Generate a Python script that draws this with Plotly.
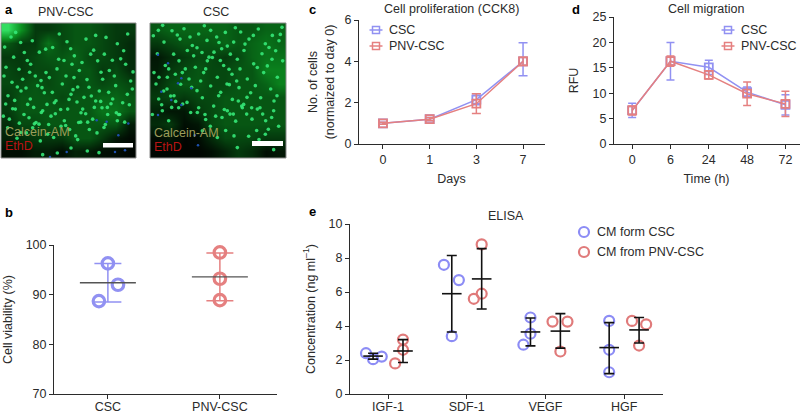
import plotly.graph_objects as go

W, H = 800, 415
FONT = "Liberation Sans"
INK = "#2b2b2b"
BLUE = "#9191f2"
RED = "#e58080"
BLUE_D = "#8c8cf5"
RED_D = "#e07a7a"

# ---------- data ----------
photo_pnv = [
 [.9,.5,.2,.2,.25,.3,.3,.25,.2,.2],
 [.3,.2,.2,.4,.25,.3,.3,.25,.2,.15],
 [.2,.2,.25,.3,.3,.35,.25,.25,.2,.15],
 [.25,.2,.25,.25,.3,.3,.3,.2,.25,.15],
 [.25,.25,.3,.25,.3,.25,.3,.25,.3,.25],
 [.2,.3,.3,.3,.25,.3,.3,.35,.35,.3],
 [.2,.3,.3,.3,.3,.3,.3,.4,.4,.3],
 [.15,.25,.25,.3,.3,.3,.3,.3,.3,.1],
 [.12,.15,.2,.2,.2,.3,.3,.2,.08,.04],
 [.05,.05,.1,.1,.05,.12,.1,.05,.04,.02]]
photo_csc = [
 [.3,.35,.35,.35,.35,.35,.3,.3,.35,.35],
 [.2,.25,.3,.3,.3,.35,.3,.35,.4,.35],
 [.08,.15,.2,.25,.25,.2,.25,.35,.4,.4],
 [.1,.2,.25,.3,.25,.25,.3,.3,.45,.45],
 [.15,.25,.3,.3,.25,.25,.3,.3,.35,.45],
 [.2,.25,.2,.25,.25,.3,.3,.3,.3,.3],
 [.12,.08,.08,.2,.25,.3,.3,.3,.3,.3],
 [.15,.2,.05,.08,.25,.3,.3,.3,.3,.3],
 [.04,.08,.02,.04,.15,.25,.25,.25,.2,.2],
 [.02,.02,.02,.02,.05,.12,.2,.15,.05,.08]]
cells_pnv_x = [33,62,97,178,212,258,287,318,352,383,41,73,118,137,192,223,272,313,362,18,57,92,138,171,216,238,293,328,377,
               36,68,113,148,187,222,267,308,347,392,24,63,91,133,168,213,252,298,338,382,46,83,128,163,207,248,287,322,368,
               28,72,108,153,193,243,278,323,352,62,98,143,183,227,268,312,233,297,128,172,213,262,
               14,47,82,106,126,158,201,246,281,303,337,371,399,12,52,89,123,157,198,233,261,302,343,397,
               17,44,78,101,124,146,176,203,231,257,283,326,356,388,10,38,58,87,117,141,166,197,219,242,274,306,333,359,
               23,51,79,103,121,161,182,209,236,263,291,316,349,374]
cells_pnv_y = [52,68,63,43,87,58,47,53,72,43,112,98,97,88,122,108,103,103,117,142,148,133,158,147,133,152,123,152,133,
               187,178,197,173,192,173,202,178,197,183,227,213,237,218,242,223,232,213,237,223,267,253,272,248,238,267,243,262,248,
               297,283,307,288,302,278,297,283,302,337,323,342,318,347,328,322,358,397,403,398,383,392,
               82,38,122,168,203,83,66,128,91,157,121,93,156,168,201,157,182,217,168,201,179,244,168,207,
               252,241,204,262,277,313,118,267,246,281,262,217,283,254,288,266,309,293,312,253,281,316,209,306,228,263,251,283,
               323,354,338,311,362,352,268,328,307,306,338,313,278,306]
cells_csc_x = [31,72,108,152,188,232,278,331,373,402,48,96,133,177,213,257,303,352,393,28,77,118,162,198,247,288,342,383,
               52,93,142,178,227,268,317,358,404,33,82,123,167,208,252,298,347,388,57,98,147,188,237,273,322,368,32,68,117,
               163,212,253,297,338,387,43,92,148,197,238,287,328,377,62,173,222,263,312,353,258,302,352,
               16,44,88,126,169,206,238,262,291,316,363,397,18,62,103,147,183,221,243,276,328,372,
               24,58,83,112,137,158,173,193,217,244,266,281,308,336,378,13,41,71,104,128,152,203,229,256,283,311,344,371,
               47,78,131,171,218,246,271,296,326,361,392,163,187,208,233,268,333,377]
cells_csc_y = [32,33,27,43,32,38,37,28,47,23,67,58,77,62,68,67,58,72,63,102,103,92,98,97,103,92,102,93,
               137,123,142,123,137,118,132,138,123,172,163,177,158,172,163,177,158,172,207,193,212,198,192,203,197,207,237,228,247,
               233,227,238,232,233,227,272,263,277,258,272,253,267,272,302,298,292,303,297,302,347,348,342,
               48,17,46,52,18,52,79,24,73,47,83,44,158,147,158,84,112,87,148,147,143,118,
               192,172,244,147,108,183,147,113,122,194,183,258,218,263,243,283,254,262,252,277,263,288,268,282,263,263,282,292,
               213,227,202,283,217,282,243,282,331,327,318,332,318,352,331,382,358,388]
blue_csc_x = [30,60,100,130,40,90,30,150,100,70,140]
blue_csc_y = [105,130,175,205,215,190,285,375,255,240,345]
blue_pnv_x = [355,385,320,375,290,345,200,150]
blue_pnv_y = [345,310,305,390,300,395,395,410]

days = ["0", "1", "3", "7"]
prolif_csc = [1.0, 1.2, 2.15, 4.0]
prolif_csc_err_plus = [0.05, 0.08, 0.28, 0.9]
prolif_csc_err_minus = [0.05, 0.08, 0.25, 0.7]
prolif_pnv = [1.0, 1.2, 1.95, 4.0]
prolif_pnv_err = [0.05, 0.08, 0.48, 0.2]

times = ["0", "6", "24", "48", "72"]
migr_csc = [6.6, 16.3, 15.1, 10.2, 7.7]
migr_csc_err = [1.4, 3.7, 1.4, 1.0, 2.0]
migr_pnv = [6.6, 16.3, 13.6, 9.9, 7.9]
migr_pnv_err = [0.9, 1.0, 0.8, 2.3, 2.5]

viab_groups = ["CSC", "PNV-CSC"]
viab_csc = [96.3, 92.0, 88.7]
viab_csc_jitter = [0.0, 0.09, -0.08]
viab_pnv = [98.5, 93.2, 88.9]
viab_pnv_jitter = [0.0, 0.0, 0.0]
viab_mean = [92.4, 93.6]
viab_err_plus = [3.9, 4.8]
viab_err_minus = [3.9, 4.8]

elisa_groups = ["IGF-1", "SDF-1", "VEGF", "HGF"]
elisa_csc = [[2.4, 2.05, 2.2], [7.6, 6.7, 3.4], [4.5, 3.55, 2.9], [4.3, 2.6, 1.28]]
elisa_csc_jitter = [[-.09, 0, .11], [-.10, .09, 0], [0, 0, -.09], [0, 0, 0]]
elisa_pnv = [[3.2, 2.6, 1.8], [8.8, 5.9, 5.6], [4.26, 4.26, 2.5], [4.3, 4.1, 2.85]]
elisa_pnv_jitter = [[0, 0, -.10], [0, 0, -.10], [-.10, .09, 0], [-.09, .09, 0]]
elisa_csc_mean = [2.23, 5.9, 3.65, 2.73]
elisa_csc_hi = [2.4, 8.15, 4.47, 4.2]
elisa_csc_lo = [2.05, 3.65, 2.83, 1.2]
elisa_pnv_mean = [2.53, 6.77, 3.7, 3.77]
elisa_pnv_hi = [3.2, 8.55, 4.73, 4.5]
elisa_pnv_lo = [1.85, 5.0, 2.7, 3.0]
GROUP_OFFSET = 0.19

# ---------- helpers ----------
def dom_x(a, b): return [a / W, b / W]
def dom_y(top, bottom): return [1 - bottom / H, 1 - top / H]
def px(x, y): return x / W, 1 - y / H

axis_common = dict(showgrid=False, zeroline=False, showline=True, linecolor=INK, linewidth=1,
                   ticks="outside", ticklen=4, tickcolor=INK, tickwidth=1,
                   tickfont=dict(family=FONT, size=12.5, color=INK), anchor="free")
bottom_axis = {**axis_common, "ticklabelstandoff": -3}

def title(text, standoff):
    return dict(text=text, font=dict(family=FONT, size=12.5, color=INK), standoff=standoff)

fig = go.Figure()
annotations, shapes = [], []

def text(x, y, s, size=12.5, color=INK, bold=False, anchor="center"):
    xp, yp = px(x, y)
    annotations.append(dict(x=xp, y=yp, xref="paper", yref="paper", text=f"<b>{s}</b>" if bold else s,
                            showarrow=False, xanchor=anchor, yanchor="middle",
                            font=dict(family=FONT, size=size, color=color)))

def rect(x0, y0, x1, y1, kind="rect", **kw):
    a, b = px(x0, y0); c, d = px(x1, y1)
    shapes.append(dict(type=kind, xref="paper", yref="paper", x0=a, y0=b, x1=c, y1=d, **kw))

def hline(x0, x1, y, color):
    a, b = px(x0, y); c, _ = px(x1, y)
    shapes.append(dict(type="line", xref="paper", yref="paper", x0=a, y0=b, x1=c, y1=b, line=dict(color=color, width=1.5)))

# ---------- panel a ----------
CS = [[0, "#000000"], [.5, "#0b8f20"], [1, "#3af070"]]
def photo(z, ax, x0, x1, cx, cy, bx, by):
    n = len(z)
    xs = [x0 + (x1 - x0) * (i + .5) / n for i in range(n)]
    ys = [10 + 403 * (i + .5) / n for i in range(n)]
    xa, ya = (f"x{ax}", f"y{ax}") if ax > 1 else ("x", "y")
    fig.add_trace(go.Heatmap(z=z, x=xs, y=ys, xaxis=xa, yaxis=ya,
                             colorscale=CS, zmin=0, zmax=1, zsmooth="best", showscale=False, hoverinfo="skip"))
    fig.add_trace(go.Scatter(x=cx, y=cy, xaxis=xa, yaxis=ya, mode="markers", showlegend=False, hoverinfo="skip",
                             marker=dict(size=3.6, color="#35e878", opacity=.9, line=dict(width=0))))
    fig.add_trace(go.Scatter(x=bx, y=by, xaxis=xa, yaxis=ya, mode="markers", showlegend=False, hoverinfo="skip",
                             marker=dict(size=2.5, color="#1e50b0", line=dict(width=0))))

photo(photo_pnv, 1, 3, 408, cells_pnv_x, cells_pnv_y, blue_pnv_x, blue_pnv_y)
photo(photo_csc, 2, 6, 414, cells_csc_x, cells_csc_y, blue_csc_x, blue_csc_y)

blank = dict(visible=False)
layout = dict(
    xaxis=dict(domain=dom_x(1, 136), range=[3, 408], **blank),
    yaxis=dict(domain=dom_y(23, 158), range=[413, 10], **blank),
    xaxis2=dict(domain=dom_x(150, 286), range=[6, 414], **blank),
    yaxis2=dict(domain=dom_y(23, 158), range=[413, 10], **blank),
)
text(66, 12, "PNV-CSC"); text(216, 12, "CSC")
text(3, 132, "Calcein-AM", color="#9d9d5a", anchor="left")
text(3, 146, "EthD", color="#b81414", anchor="left")
text(152, 133, "Calcein-AM", color="#9d9d5a", anchor="left")
text(152, 147, "EthD", color="#b81414", anchor="left")
rect(103, 143, 133, 147.5, fillcolor="white", line=dict(width=0))
rect(252, 141, 283, 146, fillcolor="white", line=dict(width=0))
rect(1, 23, 136, 158, line=dict(color="#8a8a8a", width=1))
rect(150, 23, 286, 158, line=dict(color="#8a8a8a", width=1))

# ---------- panel b ----------
for i, (vals, jit, col) in enumerate([(viab_csc, viab_csc_jitter, BLUE), (viab_pnv, viab_pnv_jitter, RED)]):
    fig.add_trace(go.Scatter(x=[i + j for j in jit], y=vals, xaxis="x3", yaxis="y3", mode="markers", showlegend=False,
                             marker=dict(symbol="circle-open", size=11.5, color=col, line=dict(width=3.2, color=col))))
    fig.add_trace(go.Scatter(x=[i], y=[viab_mean[i]], xaxis="x3", yaxis="y3", mode="markers", showlegend=False,
                             marker=dict(symbol="line-ew", size=0.1, color=col, line=dict(width=0, color=col)),
                             error_y=dict(type="data", array=[viab_err_plus[i]], arrayminus=[viab_err_minus[i]],
                                          color=col, thickness=1.5, width=13.5)))
    fig.add_trace(go.Scatter(x=[i], y=[viab_mean[i]], xaxis="x3", yaxis="y3", mode="markers", showlegend=False,
                             marker=dict(symbol="line-ew", size=40, color="#555", line=dict(width=1.3, color="#555"))))
layout["xaxis3"] = dict(domain=dom_x(53, 277), range=[-0.49, 1.51], tickvals=[0, 1], ticktext=viab_groups, position=1 - 394 / H, **bottom_axis)
layout["yaxis3"] = dict(domain=dom_y(245, 394), range=[70, 100], tickvals=[70, 80, 90, 100], position=53 / W,
                        title=title("Cell viability (%)", 9), **axis_common)

# ---------- panel c ----------
for name, y, ep, em, col in [("CSC", prolif_csc, prolif_csc_err_plus, prolif_csc_err_minus, BLUE),
                             ("PNV-CSC", prolif_pnv, prolif_pnv_err, prolif_pnv_err, RED)]:
    fig.add_trace(go.Scatter(x=list(range(len(days))), y=y, xaxis="x4", yaxis="y4", mode="lines+markers", name=name, showlegend=False,
                             line=dict(color=col, width=1.5),
                             marker=dict(symbol="square-open", size=8, color=col, line=dict(width=1.8, color=col)),
                             error_y=dict(type="data", array=ep, arrayminus=em, color=col, thickness=1.5, width=4.5)))
layout["xaxis4"] = dict(domain=dom_x(358, 545), range=[-0.535, 3.47], tickvals=list(range(4)), ticktext=days, position=1 - 144 / H,
                        title=title("Days", 8), **axis_common)
layout["yaxis4"] = dict(domain=dom_y(20, 144), range=[0, 6], tickvals=[0, 2, 4, 6], position=358 / W,
                        title=title("No. of cells<br>(normaized to day 0)", 6), **axis_common)

# ---------- panel d ----------
for name, y, e, col in [("CSC", migr_csc, migr_csc_err, BLUE), ("PNV-CSC", migr_pnv, migr_pnv_err, RED)]:
    fig.add_trace(go.Scatter(x=list(range(len(times))), y=y, xaxis="x5", yaxis="y5", mode="lines+markers", name=name, showlegend=False,
                             line=dict(color=col, width=1.5),
                             marker=dict(symbol="square-open", size=8, color=col, line=dict(width=1.8, color=col)),
                             error_y=dict(type="data", array=e, color=col, thickness=1.5, width=4)))
layout["xaxis5"] = dict(domain=dom_x(613, 800), range=[-0.5, 4.38], tickvals=list(range(5)), ticktext=times, position=1 - 144 / H,
                        title=title("Time (h)", 8), **axis_common)
layout["yaxis5"] = dict(domain=dom_y(17, 144), range=[0, 25], tickvals=[0, 5, 10, 15, 20, 25], position=613 / W,
                        title=title("RFU", 10), **axis_common)

# key swatches for c, d and e
def key(xc, yc, col):
    hline(xc - 6.5, xc + 6.5, yc, col)
    rect(xc - 3.5, yc - 3.5, xc + 3.5, yc + 3.5, line=dict(color=col, width=1.5))
key(376, 30, BLUE); text(387, 30, "CSC", anchor="left")
key(376, 46, RED); text(387, 46, "PNV-CSC", anchor="left")
key(728, 30, BLUE); text(739, 30, "CSC", anchor="left")
key(728, 46, RED); text(739, 46, "PNV-CSC", anchor="left")
for yc, col, label in [(232, BLUE_D, "CM form CSC"), (252, RED_D, "CM from PNV-CSC")]:
    rect(579, yc - 5, 589, yc + 5, kind="circle", line=dict(color=col, width=2.2))
    text(595, yc, label, anchor="left")

# ---------- panel e ----------
for sign, vals, jit, col, name, mean, hi, lo in [
    (-1, elisa_csc, elisa_csc_jitter, BLUE_D, "CM form CSC", elisa_csc_mean, elisa_csc_hi, elisa_csc_lo),
    (1, elisa_pnv, elisa_pnv_jitter, RED_D, "CM from PNV-CSC", elisa_pnv_mean, elisa_pnv_hi, elisa_pnv_lo)]:
    xs, ys = [], []
    for g in range(len(elisa_groups)):
        xs += [g + sign * GROUP_OFFSET + j for j in jit[g]]
        ys += vals[g]
    fig.add_trace(go.Scatter(x=xs, y=ys, xaxis="x6", yaxis="y6", mode="markers", name=name, showlegend=False,
                             marker=dict(symbol="circle-open", size=10, color=col, line=dict(width=2.2, color=col))))
    cx = [g + sign * GROUP_OFFSET for g in range(len(elisa_groups))]
    fig.add_trace(go.Scatter(x=cx, y=mean, xaxis="x6", yaxis="y6", mode="markers", showlegend=False,
                             marker=dict(symbol="line-ew", size=14, color="#111", line=dict(width=1.6, color="#111")),
                             error_y=dict(type="data", array=[h - m for h, m in zip(hi, mean)],
                                          arrayminus=[m - l for m, l in zip(mean, lo)],
                                          color="#111", thickness=1.6, width=5)))
layout["xaxis6"] = dict(domain=dom_x(349, 663), range=[-0.496, 3.494], tickvals=list(range(4)), ticktext=elisa_groups, position=1 - 394 / H, **bottom_axis)
layout["yaxis6"] = dict(domain=dom_y(224, 394), range=[0, 10], tickvals=[0, 2, 4, 6, 8, 10], position=349 / W,
                        title=title("Concentration (ng ml<sup>–1</sup>)", 9), **axis_common)

# ---------- titles ----------
text(452, 9, "Cell proliferation (CCK8)")
text(706, 9, "Cell migration")
text(506, 216, "ELISA")
for lx, ly, s in [(3, 9, "a"), (3, 212, "b"), (307, 9, "c"), (570, 9, "d"), (307, 211, "e")]:
    text(lx, ly, s, size=13, color="#000", bold=True, anchor="left")

fig.update_layout(
    width=W, height=H, autosize=False, margin=dict(l=0, r=0, t=0, b=0, pad=0, autoexpand=False),
    paper_bgcolor="white", plot_bgcolor="white", font=dict(family=FONT, color=INK),
    annotations=annotations, shapes=shapes, showlegend=False,
    **layout)

fig.write_html("out.html", post_script="document.body.style.margin='0';", config={"displayModeBar": False})
